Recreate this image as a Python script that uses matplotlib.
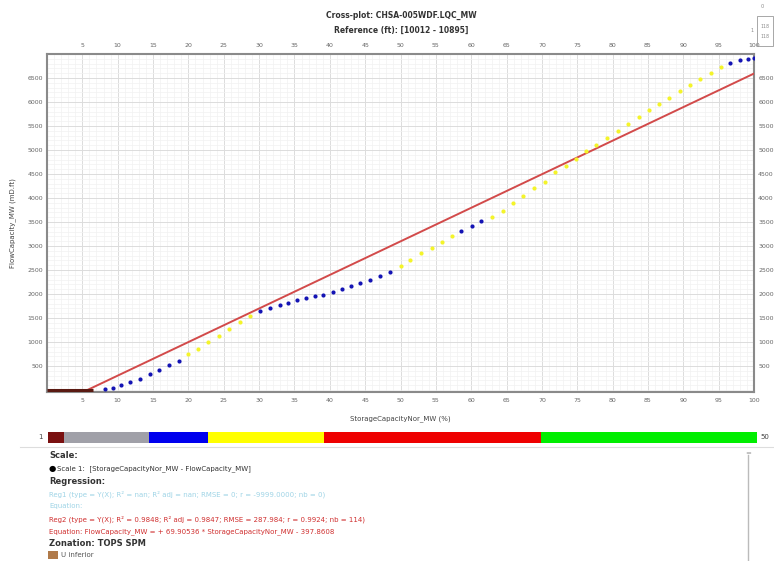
import numpy as np
import matplotlib.pyplot as plt
from matplotlib.patches import Rectangle

# points (StorageCapacityNor_MW %, FlowCapacity_MW mD.ft)
zero_x = [0.0, 0.8, 1.6, 2.4, 3.2, 4.0, 4.8, 5.6, 6.5]
zero_y = [0, 0, 0, 0, 0, 0, 0, 0, 0]

blue_x = [8.2, 9.3, 10.5, 11.75, 13.1, 14.5, 15.9, 17.2, 18.6,
          30.1, 31.5, 32.9, 34.1, 35.4, 36.6, 37.9, 39.1, 40.4, 41.7, 43.0, 44.3, 45.7, 47.1, 48.5,
          58.6, 60.1, 61.4,
          96.6, 98.0, 99.1, 100.0]
blue_y = [20, 45, 96, 164, 240, 336, 418, 512, 615,
          1647, 1715, 1766, 1820, 1876, 1920, 1955, 1988, 2043, 2098, 2160, 2227, 2295, 2377, 2467,
          3310, 3422, 3512,
          6803, 6872, 6905, 6919]

yellow_x = [20.0, 21.4, 22.8, 24.3, 25.8, 27.3, 28.75,
            50.0, 51.4, 52.9, 54.4, 55.9, 57.3,
            63.0, 64.5, 65.9, 67.3, 68.9, 70.4, 71.8, 73.4, 74.8, 76.2, 77.7, 79.2,
            80.7, 82.2, 83.7, 85.1, 86.6, 88.0, 89.5, 91.0, 92.4, 93.9, 95.3]
yellow_y = [752, 854, 992, 1135, 1278, 1408, 1551,
            2582, 2719, 2862, 2965, 3082, 3210,
            3614, 3737, 3887, 4051, 4209, 4344, 4537, 4666, 4823, 4973, 5096, 5246,
            5403, 5540, 5690, 5827, 5963, 6086, 6223, 6360, 6483, 6612, 6735]

# regression 2 (from the equation shown under the plot)
reg_slope = 69.90536
reg_intercept = -397.8608

# zonation bar (in % of the bar width)
zone_edges = [0, 2.2, 14.3, 22.5, 38.9, 69.5, 100]
zone_colors = ['#7a1010', '#a0a0a8', '#0000ee', '#ffff00', '#ee0000', '#00ee00']

fig = plt.figure(figsize=(7.74, 5.61), dpi=100)
fig.patch.set_facecolor('white')

ax = fig.add_axes([47 / 774, 1 - 392 / 561, 707 / 774, 338 / 561])
ax.set_xlim(0, 100)
ax.set_ylim(-40, 7000)

ax.set_xticks(np.arange(5, 101, 5))
ax.set_yticks(np.arange(500, 6501, 500))
ax.set_xticks(np.arange(0, 101, 1), minor=True)
ax.set_yticks(np.arange(0, 7001, 100), minor=True)
ax.grid(True, which='major', color='#dcdcdc', lw=0.7)
ax.grid(True, which='minor', color='#f2f2f2', lw=0.5)
ax.set_axisbelow(True)

ax.tick_params(which='both', length=0, labelsize=4.5, colors='#666666',
               top=True, right=True, labeltop=True, labelright=True)
ax.tick_params(axis='x', pad=4)
ax.tick_params(axis='y', pad=3)
for sp in ax.spines.values():
    sp.set_color('#8a8a8a')
    sp.set_linewidth(1.5)

# regression line, clipped at zero
xs = np.array([-reg_intercept / reg_slope, 100.0])
ax.plot(xs, reg_slope * xs + reg_intercept, color='#d24a4a', lw=1.4, zorder=3)

# zone-1 points lying on zero
ax.plot(zero_x, zero_y, color='#5a1a12', lw=2.2, zorder=4, solid_capstyle='butt')

ax.plot(yellow_x, yellow_y, 'o', ms=3, color='#f4f42a', mec='none', zorder=5)
ax.plot(blue_x, blue_y, 'o', ms=3, color='#1414b4', mec='none', zorder=5)

ax.set_xlabel('StorageCapacityNor_MW (%)', fontsize=5, color='#444444', labelpad=9)
ax.set_ylabel('FlowCapacity_MW (mD.ft)', fontsize=5, color='#444444', labelpad=8)

fig.text(401 / 774, 1 - 15 / 561, 'Cross-plot: CHSA-005WDF.LQC_MW', ha='center', va='center',
         fontsize=5.5, fontweight='bold', color='#333333')
fig.text(401 / 774, 1 - 30 / 561, 'Reference (ft): [10012 - 10895]', ha='center', va='center',
         fontsize=5.5, fontweight='bold', color='#333333')

# small widget in the top-right corner
fig.text(762 / 774, 1 - 6 / 561, '0', fontsize=3.5, color='#888888', ha='center', va='center')
fig.text(752 / 774, 1 - 30 / 561, '1', fontsize=3.5, color='#888888', ha='center', va='center')
fig.patches.append(Rectangle((757 / 774, 1 - 46 / 561), 16 / 774, 30 / 561,
                             transform=fig.transFigure, fill=False, ec='#999999', lw=0.6))
fig.text(765 / 774, 1 - 27 / 561, '118', fontsize=3.3, color='#888888', ha='center', va='center')
fig.text(765 / 774, 1 - 37 / 561, '118', fontsize=3.3, color='#888888', ha='center', va='center')

# zonation bar
bx = fig.add_axes([48 / 774, 1 - 443 / 561, 709 / 774, 11 / 561])
for i, c in enumerate(zone_colors):
    bx.add_patch(Rectangle((zone_edges[i], 0), zone_edges[i + 1] - zone_edges[i], 1,
                           color=c, lw=0))
bx.set_xlim(0, 100)
bx.set_ylim(0, 1)
bx.axis('off')
fig.text(43 / 774, 1 - 437 / 561, '1', fontsize=5, color='#444444', ha='right', va='center')
fig.text(760 / 774, 1 - 437 / 561, '50', fontsize=5, color='#444444', ha='left', va='center')

# separator and info panel
fig.add_artist(plt.Line2D([20 / 774, 1], [1 - 447 / 561, 1 - 447 / 561],
                          transform=fig.transFigure, color='#dddddd', lw=0.8))
fig.add_artist(plt.Line2D([748 / 774, 748 / 774], [0, 1 - 455 / 561],
                          transform=fig.transFigure, color='#bbbbbb', lw=1.0))
fig.text(748 / 774, 1 - 453 / 561, '=', fontsize=5, color='#999999', ha='center', va='center')

x0 = 49 / 774
def line(y, s, **kw):
    fig.text(x0, 1 - y / 561, s, va='center', ha='left', **kw)

line(455, 'Scale:', fontsize=6, fontweight='bold', color='#333333')
line(469, '\u25CF', fontsize=6, color='black')
fig.text(57 / 774, 1 - 469 / 561, 'Scale 1:  [StorageCapacityNor_MW - FlowCapacity_MW]',
         va='center', ha='left', fontsize=5, color='#333333')
line(481, 'Regression:', fontsize=6, fontweight='bold', color='#333333')
line(494, 'Reg1 (type = Y(X); R\u00b2 = nan; R\u00b2 adj = nan; RMSE = 0; r = -9999.0000; nb = 0)',
     fontsize=5, color='#9fd4e6')
line(506, 'Equation:', fontsize=5, color='#9fd4e6')
line(519, 'Reg2 (type = Y(X); R\u00b2 = 0.9848; R\u00b2 adj = 0.9847; RMSE = 287.984; r = 0.9924; nb = 114)',
     fontsize=5, color='#d03030')
line(532, 'Equation: FlowCapacity_MW = + 69.90536 * StorageCapacityNor_MW - 397.8608',
     fontsize=5, color='#d03030')
line(543, 'Zonation: TOPS SPM', fontsize=6, fontweight='bold', color='#333333')
fig.patches.append(Rectangle((48 / 774, 1 - 559 / 561), 10 / 774, 8 / 561,
                             transform=fig.transFigure, color='#b07a4a', lw=0))
fig.text(61 / 774, 1 - 555 / 561, 'U inferior', va='center', ha='left', fontsize=5, color='#555555')

fig.savefig('out.png', dpi=100)
